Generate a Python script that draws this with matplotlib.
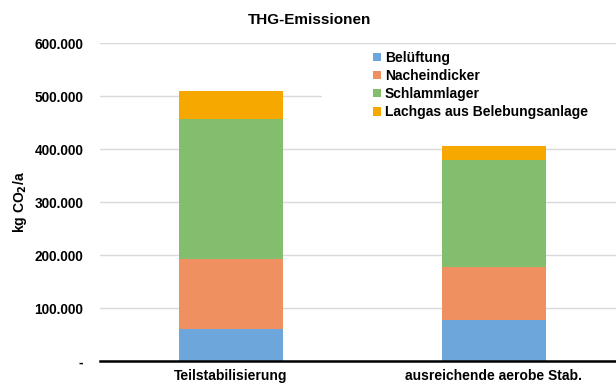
import numpy as np
import matplotlib
matplotlib.use('Agg')
import matplotlib.pyplot as plt
from matplotlib.ticker import FuncFormatter
from matplotlib.patches import Rectangle

plt.rcParams['font.family'] = ['Liberation Sans', 'DejaVu Sans']
plt.rcParams['font.weight'] = 'bold'

# THG-Emissionen je Variante, kg CO2/a
varianten = ['Teilstabilisierung', 'ausreichende aerobe Stab.']
quellen = ['Belüftung', 'Nacheindicker', 'Schlammlager', 'Lachgas aus Belebungsanlage']
beluftung = [60000, 77000]
nacheindicker = [133000, 100000]
schlammlager = [264000, 203000]
lachgas = [52000, 26000]
farben = ['#6CA6DB', '#EE9060', '#82BE6E', '#F7A800']


def tausender(v, pos):
    if v == 0:
        return '-'
    return '{:,.0f}'.format(v).replace(',', '.')


fig = plt.figure(figsize=(6.16, 3.85), dpi=100)
ax = fig.add_axes([0.1623, 0.0623, 0.8377, 0.8260])

x = np.arange(len(varianten))
unten = np.zeros(len(varianten))
for werte, name, farbe in zip([beluftung, nacheindicker, schlammlager, lachgas], quellen, farben):
    ax.bar(x, werte, width=0.395, bottom=unten, color=farbe, label=name, zorder=2)
    unten += np.array(werte)

ax.set_xlim(-0.498, 0.464 + 1)
ax.set_ylim(0, 600000)
ax.set_yticks(np.arange(0, 600001, 100000))
ax.yaxis.set_major_formatter(FuncFormatter(tausender))
ax.set_xticks(x)
ax.set_xticklabels(varianten, fontsize=10, fontweight='bold')
ax.tick_params(axis='y', length=0, pad=12, labelsize=9.8)
ax.tick_params(axis='x', length=0, pad=6)
for lab in ax.get_yticklabels():
    lab.set_fontweight('bold')

ax.grid(axis='y', color='#D9D9D9', linewidth=1, zorder=0)
ax.set_axisbelow(True)
for s in ['top', 'right', 'left']:
    ax.spines[s].set_visible(False)
ax.spines['bottom'].set_linewidth(1.8)
ax.spines['bottom'].set_color('black')
ax.spines['bottom'].set_zorder(3)

ax.set_ylabel('kg CO$_2$/a', fontsize=10, fontweight='bold', labelpad=4)
fig.text(0.503, 0.948, 'THG-Emissionen', ha='center', va='center',
         fontsize=11, fontweight='bold')

# weisser Hintergrund der Legende ueber den Gitterlinien
ax.add_patch(Rectangle((0.5227, 0.675), 0.48, 0.203, transform=fig.transFigure,
                       facecolor='white', edgecolor='none', zorder=1, clip_on=False))

ax.legend(loc='upper left', bbox_to_anchor=(0.6055, 0.868), bbox_transform=fig.transFigure,
          frameon=False, prop={'size': 10, 'weight': 'bold'}, handlelength=0.55, handleheight=0.55,
          handletextpad=0.3, labelspacing=0.3, borderpad=0, borderaxespad=0)

fig.savefig('out.png', dpi=100)
